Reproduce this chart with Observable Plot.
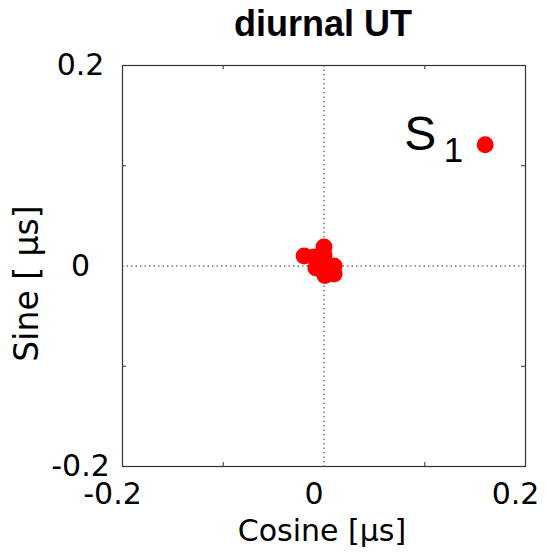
<!DOCTYPE html>
<html>
<head>
<meta charset="utf-8">
<script src="https://cdn.jsdelivr.net/npm/d3@7"></script>
<script src="https://cdn.jsdelivr.net/npm/@observablehq/plot@0.6"></script>
<style>
  html, body { margin: 0; padding: 0; background: #fff; }
  #chart { width: 547px; height: 554px; position: relative; }
</style>
</head>
<body>
<div id="chart"></div>
<script>
// Data
const cosine = [0.160, 0.000, 0.000, -0.0197, -0.010, -0.008, 0.010, 0.010, 0.001, 0.000];
const sine   = [0.121, 0.019, 0.011, 0.010, 0.009, -0.002, 0.000, -0.008, -0.0095, 0.003];
const labels = ["S1", "", "", "", "", "", "", "", "", ""];
const majorTicks = [-0.2, 0, 0.2];
const minorTicks = [-0.1, 0.1];
const tickLabels = ["-0.2", "0", "0.2"];
const title = "diurnal UT";
const xLabel = "Cosine [μs]";
const yLabel = "Sine [ μs]";

const points = cosine.map((c, i) => ({x: c, y: sine[i], label: labels[i]}));
const named = points.filter(d => d.label);
const fmt = d => tickLabels[majorTicks.indexOf(d)];
const F = "DejaVu Sans, sans-serif";

const chart = Plot.plot({
  width: 547,
  height: 554,
  marginLeft: 122,
  marginRight: 22,
  marginTop: 65,
  marginBottom: 88,
  x: {domain: [-0.2, 0.2]},
  y: {domain: [-0.2, 0.2]},
  style: {fontFamily: F, background: "#fff", color: "#000"},
  marks: [
    Plot.ruleX([0], {stroke: "#333", strokeDasharray: "1.5,3", strokeWidth: 1}),
    Plot.ruleY([0], {stroke: "#333", strokeDasharray: "1.5,3", strokeWidth: 1}),
    // inward minor ticks on all four sides
    Plot.ruleX(minorTicks, {y1: -0.2, y2: -0.196, stroke: "#333"}),
    Plot.ruleX(minorTicks, {y1: 0.2, y2: 0.196, stroke: "#333"}),
    Plot.ruleY(minorTicks, {x1: -0.2, x2: -0.196, stroke: "#333"}),
    Plot.ruleY(minorTicks, {x1: 0.2, x2: 0.196, stroke: "#333"}),
    Plot.frame({stroke: "#333", strokeWidth: 1.2}),
    Plot.axisX(majorTicks, {anchor: "bottom", tickSize: 0, tickPadding: 16, dx: -10, tickFormat: fmt, fontSize: 30, fontFamily: F, label: null}),
    Plot.axisY(majorTicks, {anchor: "left", tickSize: 0, tickPadding: 42, textAnchor: "middle", tickFormat: fmt, fontSize: 30, fontFamily: F, label: null}),
    Plot.dot(points, {x: "x", y: "y", r: 8.5, fill: "#ff0000", stroke: "none"}),
    Plot.text(named, {x: "x", y: "y", text: d => d.label[0], textAnchor: "end", dx: -49, dy: -10, fontSize: 48, fontFamily: "Liberation Sans, Arial, sans-serif"}),
    Plot.text(named, {x: "x", y: "y", text: d => d.label.slice(1), textAnchor: "end", dx: -22, dy: 6, fontSize: 35, fontFamily: "Liberation Sans, Arial, sans-serif"}),
    // title and axis labels
    Plot.text([title], {frameAnchor: "top", lineAnchor: "middle", dy: -41.5, dx: -1, text: d => d, fontSize: 36, fontWeight: "bold", fontFamily: "Liberation Sans, Arial, sans-serif"}),
    Plot.text([xLabel], {frameAnchor: "bottom", lineAnchor: "middle", textAnchor: "middle", dy: 65, dx: -2, text: d => d, fontSize: 30, fontFamily: F}),
    Plot.text([yLabel], {frameAnchor: "left", lineAnchor: "middle", textAnchor: "middle", dx: -95, dy: 17.5, rotate: -90, text: d => d, fontSize: 33, fontFamily: F})
  ]
});
document.getElementById("chart").appendChild(chart);
</script>
</body>
</html>
